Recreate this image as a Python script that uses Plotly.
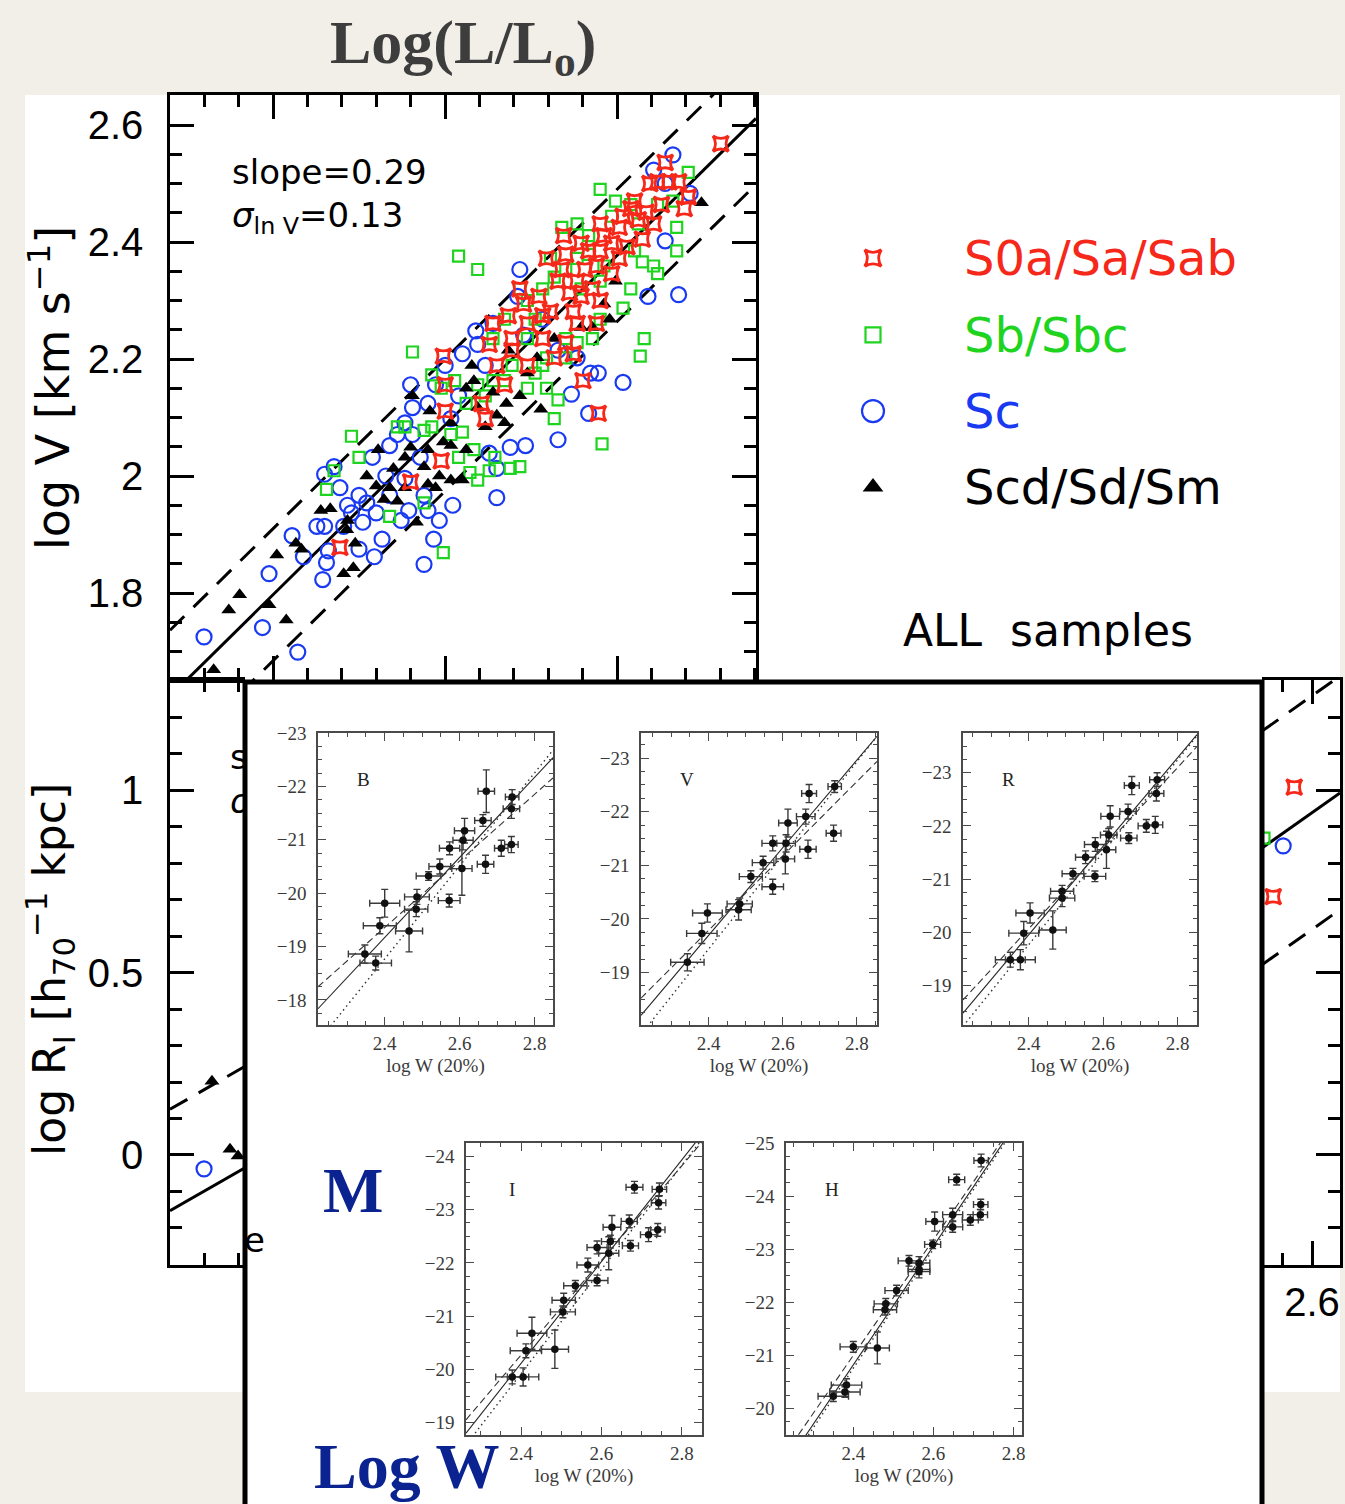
import math
import plotly.graph_objects as go

W, H = 1345, 1504

# ---------------- velocity-luminosity relation, all samples ----------------
# S0a/Sa/Sab
sa_logL = [9.389, 9.800, 9.978, 9.990, 10.001, 10.001, 10.234, 10.212, 10.279, 10.257,
           10.301, 10.346, 10.368, 10.435, 10.457, 10.479, 10.390, 10.546, 10.568, 10.613,
           10.679, 10.702, 10.590, 10.657, 10.724, 10.746, 10.791, 10.768, 10.813, 10.835,
           10.791, 10.880, 10.902, 10.924, 10.969, 11.013, 11.035, 11.080, 11.124, 11.102,
           11.169, 11.213, 11.258, 11.236, 11.191, 11.302, 11.280, 11.358, 11.391, 11.414,
           11.603, 10.891, 10.802, 10.702, 10.746, 10.635, 10.390, 10.479, 10.568, 10.857,
           10.902, 10.969, 11.013, 11.058, 11.147, 10.902, 10.690, 10.768, 10.880]
sa_logV = [1.878, 1.990, 2.026, 2.205, 2.156, 2.111, 2.098, 2.124, 2.261, 2.225,
           2.189, 2.156, 2.274, 2.320, 2.294, 2.261, 2.235, 2.307, 2.274, 2.281,
           2.353, 2.379, 2.372, 2.333, 2.313, 2.281, 2.307, 2.333, 2.353, 2.385,
           2.398, 2.359, 2.385, 2.411, 2.398, 2.425, 2.444, 2.457, 2.438, 2.470,
           2.451, 2.431, 2.464, 2.503, 2.500, 2.503, 2.536, 2.503, 2.457, 2.477,
           2.568, 2.107, 2.163, 2.228, 2.209, 2.202, 2.215, 2.189, 2.235, 2.320,
           2.300, 2.346, 2.372, 2.392, 2.405, 2.431, 2.411, 2.261, 2.261]

# Sb/Sbc
sb_logL = [9.311, 9.500, 9.456, 9.355, 9.678, 9.878, 9.990, 9.811, 9.923, 9.723,
           9.767, 9.878, 9.923, 10.034, 10.101, 10.168, 10.079, 10.145, 10.190, 10.290,
           10.379, 10.435, 10.257, 9.978, 10.056, 10.123, 10.190, 10.234, 10.279, 10.346,
           10.390, 10.479, 10.524, 10.568, 10.590, 10.635, 10.657, 10.590, 10.702, 10.702,
           10.768, 10.279, 10.346, 10.435, 10.479, 10.568, 10.635, 10.702, 10.768, 10.835,
           10.902, 10.791, 10.924, 11.013, 11.102, 11.147, 11.213, 11.236, 11.080, 11.035,
           10.902, 10.857, 11.158, 11.135, 10.913, 10.079, 10.190, 10.902, 10.679, 10.768,
           10.969, 11.080, 11.236, 11.347, 11.347, 11.414, 11.325, 10.613, 10.835, 11.124,
           10.479, 10.524, 10.991]
sb_logV = [1.977, 2.032, 2.068, 2.009, 1.931, 1.954, 1.869, 2.212, 2.173, 2.084,
           2.084, 2.078, 2.084, 2.071, 2.075, 2.045, 2.032, 2.006, 1.993, 2.032,
           2.013, 2.016, 2.009, 2.150, 2.163, 2.124, 2.156, 2.137, 2.163, 2.163,
           2.189, 2.150, 2.176, 2.189, 2.150, 2.098, 2.130, 2.202, 2.202, 2.235,
           2.228, 2.235, 2.268, 2.320, 2.300, 2.320, 2.340, 2.353, 2.372, 2.379,
           2.333, 2.320, 2.359, 2.372, 2.385, 2.366, 2.359, 2.346, 2.320, 2.287,
           2.268, 2.235, 2.235, 2.205, 2.055, 2.376, 2.353, 2.490, 2.425, 2.431,
           2.444, 2.464, 2.464, 2.425, 2.385, 2.519, 2.470, 2.372, 2.411, 2.431,
           2.235, 2.268, 2.470]

# Sc
sc_logL = [8.599, 8.939, 8.977, 9.144, 9.111, 9.177, 9.289, 9.311, 9.255, 9.300,
           9.322, 9.411, 9.433, 9.389, 9.355, 9.300, 9.500, 9.456, 9.522, 9.589,
           9.500, 9.634, 9.600, 9.545, 9.578, 9.656, 9.678, 9.723, 9.767, 9.811,
           9.789, 9.745, 9.878, 9.934, 9.967, 10.045, 9.901, 9.878, 9.767, 9.678,
           9.811, 9.901, 9.800, 9.945, 10.001, 10.101, 10.079, 10.190, 10.179, 10.301,
           10.301, 10.379, 10.468, 10.257, 10.435, 10.657, 10.735, 10.835, 10.891, 10.846,
           11.035, 11.180, 11.358, 11.280, 11.325, 11.213, 11.280, 11.425, 10.423, 10.279,
           10.034, 9.856, 10.234, 10.457, 10.657, 10.768, 10.568]
sc_logV = [1.725, 1.741, 1.833, 1.699, 1.898, 1.862, 1.823, 1.852, 1.914, 1.914,
           1.872, 1.914, 1.950, 1.980, 2.016, 2.003, 1.967, 1.937, 1.921, 1.862,
           1.875, 1.892, 1.937, 1.954, 2.032, 2.000, 2.052, 2.071, 2.091, 2.071,
           1.941, 1.924, 1.849, 1.892, 1.924, 1.950, 1.941, 1.967, 1.996, 1.967,
           2.117, 2.124, 2.156, 2.156, 2.189, 2.209, 2.137, 2.225, 2.248, 1.963,
           2.013, 2.049, 2.052, 2.039, 2.353, 2.062, 2.140, 2.107, 2.176, 2.176,
           2.160, 2.307, 2.310, 2.402, 2.549, 2.523, 2.500, 2.483, 2.307, 2.261,
           2.098, 2.032, 2.189, 2.241, 2.215, 2.202, 2.268]

# Scd/Sd/Sm
sd_logL = [8.655, 8.743, 8.806, 8.977, 9.077, 9.022, 9.133, 9.166, 9.278, 9.333,
           9.411, 9.467, 9.429, 9.478, 9.433, 9.545, 9.600, 9.611, 9.645, 9.678,
           9.723, 9.700, 9.767, 9.800, 9.811, 9.834, 9.878, 9.901, 9.912, 9.945,
           9.967, 9.990, 10.034, 10.034, 10.101, 10.123, 10.123, 10.168, 10.156, 10.234,
           10.301, 10.346, 10.357, 10.435, 10.479, 10.535, 10.557, 10.635, 10.791, 10.857,
           10.924, 10.957, 10.991, 11.491, 10.368, 10.279, 10.190, 10.034, 9.767, 9.901]
sd_logV = [1.669, 1.771, 1.797, 1.780, 1.754, 1.865, 1.885, 1.875, 1.941, 1.944,
           1.833, 1.843, 1.908, 1.885, 1.924, 2.000, 1.983, 2.045, 1.960, 1.980,
           1.957, 2.013, 2.032, 2.049, 2.137, 1.921, 2.016, 1.986, 2.111, 1.980,
           2.000, 2.058, 2.091, 2.052, 1.993, 2.045, 2.150, 2.163, 2.189, 2.084,
           2.104, 2.091, 2.124, 2.137, 2.176, 2.202, 2.114, 2.235, 2.254, 2.254,
           2.294, 2.268, 2.333, 2.467, 2.215, 2.143, 2.117, 1.993, 1.980, 2.045]

# V-L fit: log V = vl_zero + vl_slope * (log L - 9), band = +/- 2 sigma
vl_slope = 0.29
vl_zero = 1.797
vl_sigma_ln = 0.13

# ---------------- size relations (lower row) ----------------
rl_slope = 0.27
rl_zero = 0.009          # log R at log L = 9
rl_sigma_ln = 0.32
rl_sc_logL = [8.599]
rl_sc_logR = [-0.038]
rl_sd_logL = [8.645, 8.750, 8.797]
rl_sd_logR = [0.202, 0.016, -0.003]

rv_slope = 1.13
rv_zero = 0.938          # log R at log V = 2.6
rv_band = 0.32
rv_sa_logV = [2.5695, 2.5336]
rv_sa_logR = [1.008, 0.708]
rv_sb_logV = [2.5178, 2.5058, 2.5058]
rv_sb_logR = [0.868, 0.753, 0.521]
rv_sc_logV = [2.5507]
rv_sc_logR = [0.847]

# ---------------- Tully-Fisher panels: M vs log W(20%) ----------------
band_names = ["B", "V", "R", "I", "H"]

B_logW = [2.347, 2.376, 2.387, 2.400, 2.465, 2.484, 2.486, 2.517, 2.547, 2.573, 2.572,
          2.606, 2.609, 2.613, 2.662, 2.671, 2.669, 2.711, 2.738, 2.740, 2.738]
B_mag = [-18.86, -18.69, -19.39, -19.81, -19.29, -19.70, -19.93, -20.32, -20.50, -20.84, -19.86,
         -20.46, -20.99, -21.17, -21.36, -21.91, -20.54, -20.84, -20.91, -21.80, -21.58]
B_werr = [0.044, 0.042, 0.044, 0.040, 0.036, 0.031, 0.033, 0.033, 0.029, 0.027, 0.029,
          0.027, 0.027, 0.027, 0.022, 0.022, 0.022, 0.018, 0.018, 0.018, 0.022]
B_merr = [0.17, 0.13, 0.15, 0.26, 0.39, 0.14, 0.14, 0.08, 0.14, 0.12, 0.12,
          0.50, 0.18, 0.23, 0.11, 0.40, 0.17, 0.15, 0.15, 0.14, 0.18]

V_logW = [2.343, 2.382, 2.397, 2.481, 2.484, 2.514, 2.547, 2.573, 2.573, 2.607, 2.609,
          2.614, 2.662, 2.671, 2.668, 2.737, 2.740]
V_mag = [-19.19, -19.73, -20.11, -20.17, -20.28, -20.79, -21.05, -21.41, -20.60, -21.12, -21.41,
         -21.79, -21.91, -22.34, -21.30, -21.60, -22.47]
V_werr = [0.045, 0.041, 0.040, 0.034, 0.034, 0.031, 0.029, 0.029, 0.029, 0.025, 0.025,
          0.025, 0.025, 0.020, 0.022, 0.020, 0.018]
V_merr = [0.16, 0.19, 0.17, 0.19, 0.11, 0.11, 0.12, 0.14, 0.14, 0.28, 0.16,
          0.26, 0.14, 0.17, 0.17, 0.15, 0.11]

R_logW = [2.351, 2.378, 2.387, 2.404, 2.465, 2.490, 2.490, 2.519, 2.553, 2.579, 2.578,
          2.609, 2.615, 2.619, 2.667, 2.677, 2.669, 2.716, 2.740, 2.743, 2.745]
R_mag = [-19.48, -19.48, -19.98, -20.36, -20.04, -20.64, -20.77, -21.10, -21.41, -21.65, -21.05,
         -21.55, -21.83, -22.18, -22.27, -22.76, -21.77, -22.00, -22.02, -22.61, -22.87]
R_werr = [0.040, 0.040, 0.040, 0.038, 0.036, 0.034, 0.031, 0.029, 0.027, 0.029, 0.029,
          0.025, 0.022, 0.025, 0.022, 0.020, 0.022, 0.022, 0.020, 0.020, 0.020]
R_merr = [0.14, 0.19, 0.22, 0.19, 0.36, 0.16, 0.11, 0.10, 0.12, 0.13, 0.10,
          0.35, 0.12, 0.20, 0.14, 0.17, 0.10, 0.12, 0.16, 0.14, 0.13]

I_logW = [2.378, 2.405, 2.412, 2.427, 2.484, 2.504, 2.506, 2.535, 2.566, 2.589, 2.589,
          2.618, 2.622, 2.626, 2.669, 2.682, 2.672, 2.717, 2.740, 2.742, 2.744]
I_mag = [-19.86, -19.86, -20.35, -20.68, -20.38, -21.08, -21.30, -21.57, -21.96, -21.67, -22.29,
         -22.18, -22.40, -22.67, -22.78, -23.42, -22.32, -22.53, -22.62, -23.13, -23.38]
I_werr = [0.041, 0.039, 0.039, 0.037, 0.034, 0.031, 0.029, 0.029, 0.027, 0.027, 0.025,
          0.025, 0.022, 0.022, 0.020, 0.021, 0.020, 0.020, 0.018, 0.018, 0.018]
I_merr = [0.13, 0.17, 0.13, 0.30, 0.36, 0.11, 0.13, 0.10, 0.13, 0.10, 0.12,
          0.31, 0.12, 0.22, 0.12, 0.11, 0.10, 0.13, 0.12, 0.12, 0.12]

H_logW = [2.350, 2.379, 2.383, 2.400, 2.460, 2.479, 2.481, 2.508, 2.539, 2.564, 2.564,
          2.564, 2.598, 2.603, 2.648, 2.648, 2.658, 2.692, 2.717, 2.718, 2.719]
H_mag = [-20.23, -20.31, -20.44, -21.16, -21.14, -21.86, -21.97, -22.22, -22.78, -22.62, -22.74,
         -22.58, -23.09, -23.52, -23.42, -23.65, -24.31, -23.55, -23.65, -23.84, -24.67]
H_werr = [0.038, 0.038, 0.038, 0.033, 0.030, 0.029, 0.029, 0.029, 0.027, 0.027, 0.027,
          0.027, 0.020, 0.022, 0.025, 0.025, 0.020, 0.020, 0.018, 0.018, 0.018]
H_merr = [0.10, 0.10, 0.12, 0.10, 0.30, 0.10, 0.10, 0.10, 0.10, 0.10, 0.12,
          0.12, 0.08, 0.18, 0.10, 0.12, 0.10, 0.10, 0.10, 0.10, 0.12]

# fitted relations: M = zero + slope * (log W - 2.5)   [solid, dashed, dotted]
fit_zero = {"B": [-19.92, -19.98, -19.64], "V": [-20.51, -20.48, -20.31],
            "R": [-20.78, -20.82, -20.63], "I": [-21.07, -21.16, -20.90],
            "H": [-21.94, -22.09, -21.88]}
fit_slope = {"B": [-7.50, -6.24, -8.71], "V": [-8.19, -6.95, -8.75],
             "R": [-8.35, -7.60, -8.71], "I": [-9.55, -8.88, -9.78],
             "H": [-11.19, -10.91, -11.22]}

# axis ranges of the small panels
tf_wrange = {"B": [2.222, 2.849], "V": [2.218, 2.854], "R": [2.224, 2.852],
             "I": [2.263, 2.850], "H": [2.232, 2.821]}
tf_mrange = {"B": [-17.53, -23.0], "V": [-18.02, -23.47], "R": [-18.25, -23.75],
             "I": [-18.77, -24.25], "H": [-19.50, -25.0]}

# ---------------- styling ----------------
RED, GREEN, BLUE, BLACK = "#f5281a", "#1fd41f", "#1a3af2", "#000000"
PAPER = "#f2efe8"
NAVY = "#0b2391"
SANS = "DejaVu Sans"
NUM = "Liberation Sans"
SERIF = "Liberation Serif"


def dx(a, b):
    return [a / W, b / W]


def dy(top, bottom):
    return [1 - bottom / H, 1 - top / H]


fig = go.Figure()

sym = {
    "sa": dict(symbol="star-square-open", size=14, color=RED, line=dict(width=3, color=RED)),
    "sb": dict(symbol="square-open", size=11, color=GREEN, line=dict(width=2.2, color=GREEN)),
    "sc": dict(symbol="circle-open", size=15, color=BLUE, line=dict(width=2.2, color=BLUE)),
    "sd": dict(symbol="triangle-up", size=13, color=BLACK, line=dict(width=0)),
}

# ---- top panel: log V vs log L ----
xr_top = [8.4012, 11.808]
band_v = 2 * vl_sigma_ln / math.log(10)
line_y = [vl_zero + vl_slope * (x - 9) for x in xr_top]
fig.add_trace(go.Scatter(x=xr_top, y=line_y, mode="lines",
                         line=dict(color="black", width=3), xaxis="x", yaxis="y"))
for s in (1, -1):
    fig.add_trace(go.Scatter(x=xr_top, y=[v + s * band_v for v in line_y], mode="lines",
                             line=dict(color="black", width=3, dash="20px,13px"),
                             xaxis="x", yaxis="y"))
fig.add_trace(go.Scatter(x=sc_logL, y=sc_logV, mode="markers", name="Sc",
                         marker=sym["sc"], xaxis="x", yaxis="y"))
fig.add_trace(go.Scatter(x=sb_logL, y=sb_logV, mode="markers", name="Sb/Sbc",
                         marker=sym["sb"], xaxis="x", yaxis="y"))
fig.add_trace(go.Scatter(x=sd_logL, y=sd_logV, mode="markers", name="Scd/Sd/Sm",
                         marker=sym["sd"], xaxis="x", yaxis="y"))
fig.add_trace(go.Scatter(x=sa_logL, y=sa_logV, mode="markers", name="S0a/Sa/Sab",
                         marker=sym["sa"], xaxis="x", yaxis="y"))

# ---- lower left: log R vs log L (strip left of the inset) ----
xr_rl = [8.4012, 8.8372]
band_r = 2 * rl_sigma_ln / math.log(10)
rl_line = [rl_zero + rl_slope * (x - 9) for x in xr_rl]
fig.add_trace(go.Scatter(x=xr_rl, y=rl_line, mode="lines",
                         line=dict(color="black", width=3), xaxis="x2", yaxis="y2"))
for s in (1, -1):
    fig.add_trace(go.Scatter(x=xr_rl, y=[v + s * band_r for v in rl_line], mode="lines",
                             line=dict(color="black", width=3, dash="20px,13px"),
                             xaxis="x2", yaxis="y2"))
fig.add_trace(go.Scatter(x=rl_sc_logL, y=rl_sc_logR, mode="markers", marker=sym["sc"],
                         xaxis="x2", yaxis="y2"))
fig.add_trace(go.Scatter(x=rl_sd_logL, y=rl_sd_logR, mode="markers", marker=sym["sd"],
                         xaxis="x2", yaxis="y2"))
# the fit statistics of this panel run under the inset; only their first letters show
fig.add_trace(go.Scatter(x=[8.75, 8.75], y=[1.082, 0.959], mode="text",
                         text=["s", "<i>σ</i>"],
                         textposition="middle right", cliponaxis=True,
                         textfont=dict(family=SANS, size=34, color="black"),
                         xaxis="x2", yaxis="y2"))

# ---- lower right: log R vs log V (strip right of the inset) ----
xr_rv = [2.5144, 2.6479]
rv_line = [rv_zero + rv_slope * (x - 2.6) for x in xr_rv]
fig.add_trace(go.Scatter(x=xr_rv, y=rv_line, mode="lines",
                         line=dict(color="black", width=3), xaxis="x3", yaxis="y3"))
for s in (1, -1):
    fig.add_trace(go.Scatter(x=xr_rv, y=[v + s * rv_band for v in rv_line], mode="lines",
                             line=dict(color="black", width=3, dash="20px,13px"),
                             xaxis="x3", yaxis="y3"))
fig.add_trace(go.Scatter(x=rv_sb_logV, y=rv_sb_logR, mode="markers", marker=sym["sb"],
                         xaxis="x3", yaxis="y3"))
fig.add_trace(go.Scatter(x=rv_sc_logV, y=rv_sc_logR, mode="markers", marker=sym["sc"],
                         xaxis="x3", yaxis="y3"))
fig.add_trace(go.Scatter(x=rv_sa_logV, y=rv_sa_logR, mode="markers", marker=sym["sa"],
                         xaxis="x3", yaxis="y3"))

# ---- Tully-Fisher panels ----
tf_data = {
    "B": (B_logW, B_mag, B_werr, B_merr),
    "V": (V_logW, V_mag, V_werr, V_merr),
    "R": (R_logW, R_mag, R_werr, R_merr),
    "I": (I_logW, I_mag, I_werr, I_merr),
    "H": (H_logW, H_mag, H_werr, H_merr),
}
tf_box = {  # pixel frame of each panel: left, right, top, bottom
    "B": (318, 553, 733, 1025), "V": (641, 877, 733, 1025), "R": (963, 1197, 733, 1025),
    "I": (466, 702, 1143, 1435), "H": (786, 1022, 1143, 1435),
}
line_styles = [dict(color="#222", width=1.1),
               dict(color="#333", width=1.1, dash="7px,4px"),
               dict(color="#333", width=1.4, dash="1.5px,3.5px")]

axes = {}
for k, band in enumerate(band_names):
    n = k + 4
    xa, ya = f"x{n}", f"y{n}"
    w, m, we, me = tf_data[band]
    xr = tf_wrange[band]
    for zero, slope, style in zip(fit_zero[band], fit_slope[band], line_styles):
        fig.add_trace(go.Scatter(x=xr, y=[zero + slope * (x - 2.5) for x in xr], mode="lines",
                                 line=style, xaxis=xa, yaxis=ya))
    fig.add_trace(go.Scatter(
        x=w, y=m, mode="markers", xaxis=xa, yaxis=ya,
        marker=dict(symbol="circle", size=7.5, color="#111"),
        error_x=dict(type="data", array=we, color="#3a3a3a", thickness=1.4, width=3.5),
        error_y=dict(type="data", array=me, color="#3a3a3a", thickness=1.4, width=3.5)))
    l, r, t, b = tf_box[band]
    tf_tick = dict(ticks="inside", tickcolor="#4a4a4a", tickwidth=1.3, showline=True,
                   linecolor="#4a4a4a", linewidth=1.6, mirror="allticks", showgrid=False,
                   zeroline=False,
                   tickfont=dict(family=SERIF, size=19, color="#3a3a3a"))
    axes[f"xaxis{n}"] = dict(domain=dx(l, r), range=xr, anchor=ya, tick0=2.0, dtick=0.2,
                             ticklen=8, ticklabelstandoff=0,
                             minor=dict(ticks="inside", tick0=2.0, dtick=0.05,
                                        ticklen=4, tickcolor="#4a4a4a", tickwidth=1.2),
                             title=dict(text="log W (20%)", standoff=6,
                                        font=dict(family=SERIF, size=19, color="#3a3a3a")),
                             **tf_tick)
    axes[f"yaxis{n}"] = dict(domain=dy(t, b), range=tf_mrange[band], anchor=xa, tick0=0,
                             dtick=1, ticklen=8, ticklabelstandoff=6,
                             minor=dict(ticks="inside", tick0=0, dtick=0.25, ticklen=4,
                                        tickcolor="#4a4a4a", tickwidth=1.2),
                             **tf_tick)

# ---- legend keys ----
fig.add_trace(go.Scatter(x=[0.5], y=[0.873], mode="markers", marker=sym["sa"] | dict(size=15),
                         xaxis="x9", yaxis="y9", name="S0a/Sa/Sab"))
fig.add_trace(go.Scatter(x=[0.5], y=[0.617], mode="markers", marker=sym["sb"] | dict(size=15),
                         xaxis="x9", yaxis="y9", name="Sb/Sbc"))
fig.add_trace(go.Scatter(x=[0.5], y=[0.363], mode="markers", marker=sym["sc"] | dict(size=22),
                         xaxis="x9", yaxis="y9", name="Sc"))
fig.add_trace(go.Scatter(x=[0.5], y=[0.110], mode="markers", marker=sym["sd"] | dict(size=18),
                         xaxis="x9", yaxis="y9", name="Scd/Sd/Sm"))

main_tick = dict(ticks="inside", tickcolor="black", tickwidth=2.5, showline=True,
                 linecolor="black", linewidth=2.5, showgrid=False, zeroline=False,
                 tickfont=dict(family=NUM, size=40, color="black"))

layout = dict(
    width=W, height=H, margin=dict(l=0, r=0, t=0, b=0, pad=0, autoexpand=False),
    autosize=False,
    paper_bgcolor=PAPER, plot_bgcolor="white", showlegend=False, hovermode=False,
    xaxis=dict(domain=dx(170, 756), range=xr_top, anchor="y", tick0=9, dtick=1, ticklen=24,
               mirror="allticks", showticklabels=False,
               minor=dict(ticks="inside", tick0=9, dtick=0.2, ticklen=12, tickwidth=2.5,
                          tickcolor="black"), **main_tick),
    yaxis=dict(domain=dy(95, 680), range=[1.6513, 2.6513], anchor="x", tick0=0, dtick=0.2,
               ticklen=24, mirror="allticks", ticklabelstandoff=16,
               minor=dict(ticks="inside", tick0=0, dtick=0.05, ticklen=12, tickwidth=2.5,
                          tickcolor="black"), **main_tick),
    xaxis2=dict(domain=dx(170, 245), range=xr_rl, anchor="y2", tick0=9, dtick=1, ticklen=24,
                mirror="allticks", showticklabels=False,
                minor=dict(ticks="inside", tick0=9, dtick=0.2, ticklen=12, tickwidth=2.5,
                           tickcolor="black"), **main_tick),
    yaxis2=dict(domain=dy(680, 1265), range=[-0.3014, 1.3014], anchor="x2", tick0=0,
                dtick=0.5, ticklen=24, mirror=False, ticklabelstandoff=16,
                minor=dict(ticks="inside", tick0=0, dtick=0.1, ticklen=12, tickwidth=2.5,
                           tickcolor="black"), **main_tick),
    xaxis3=dict(domain=dx(1262, 1340), range=xr_rv, anchor="y3", tick0=2.0, dtick=0.2,
                ticklen=24, mirror="allticks", ticklabelstandoff=0,
                minor=dict(ticks="inside", tick0=2.0, dtick=0.05, ticklen=12, tickwidth=2.5,
                           tickcolor="black"), **main_tick),
    yaxis3=dict(domain=dy(680, 1265), range=[-0.3014, 1.3014], anchor="x3", side="right",
                tick0=0, dtick=0.5, ticklen=24, mirror=False, showticklabels=False,
                minor=dict(ticks="inside", tick0=0, dtick=0.1, ticklen=12, tickwidth=2.5,
                           tickcolor="black"), **main_tick),
    xaxis9=dict(domain=dx(840, 906), range=[0, 1], anchor="y9", visible=False),
    yaxis9=dict(domain=dy(220, 520), range=[0, 1], anchor="x9", visible=False),
)
layout.update(axes)
fig.update_layout(**layout)

# white page of the figure and the inset card
fig.add_shape(type="rect", xref="paper", yref="paper", x0=25 / W, x1=1340 / W,
              y0=1 - 1392 / H, y1=1 - 95 / H, fillcolor="white", line=dict(width=0),
              layer="below")
fig.add_shape(type="rect", xref="paper", yref="paper", x0=245 / W, x1=1262 / W,
              y0=-0.02, y1=1 - 682 / H, fillcolor="white", line=dict(width=0), layer="below")
fig.add_shape(type="rect", xref="paper", yref="paper", x0=245 / W, x1=1262 / W,
              y0=-0.02, y1=1 - 682 / H, fillcolor="rgba(0,0,0,0)",
              line=dict(color="black", width=5), layer="above")


def note(text, x, y, size, color="black", family=SANS, xanchor="center", angle=0):
    fig.add_annotation(text=text, x=x / W, y=1 - y / H, xref="paper", yref="paper",
                       showarrow=False, xanchor=xanchor, yanchor="middle", textangle=angle,
                       font=dict(family=family, size=size, color=color))


# titles and labels
note("<b>Log(L/L<sub>o</sub>)</b>", 463, 46, 62, "#3d3d3d", SERIF)
note("log V [km s<sup>−1</sup>]", 50, 388, 46, angle=-90)
note("log R<sub>I</sub> [h<sub>70</sub><sup>−1</sup> kpc]", 50, 970, 44, angle=-90)
note(f"slope={vl_slope:.2f}", 230, 172, 34, xanchor="left")
note(f"<i>σ</i><sub>ln V</sub>={vl_sigma_ln:.2f}", 230, 218, 34, xanchor="left")
note("S0a/Sa/Sab", 962, 258, 48, RED, xanchor="left")
note("Sb/Sbc", 962, 335, 48, GREEN, xanchor="left")
note("Sc", 962, 411, 48, BLUE, xanchor="left")
note("Scd/Sd/Sm", 962, 487, 48, BLACK, xanchor="left")
note("ALL  samples", 1048, 630, 44)
note("e", 254, 1240, 34)
note("<b>M</b>", 353, 1190, 64, NAVY, SERIF)
note("<b>Log W</b>", 407, 1466, 64, NAVY, SERIF)

for band in band_names:
    n = band_names.index(band) + 4
    fig.add_annotation(text=band, x=0.195, y=0.842, xref=f"x{n} domain", yref=f"y{n} domain",
                       xanchor="center", yanchor="middle", showarrow=False,
                       font=dict(family=SERIF, size=19, color="#222"))

fig.write_html("out.html")
